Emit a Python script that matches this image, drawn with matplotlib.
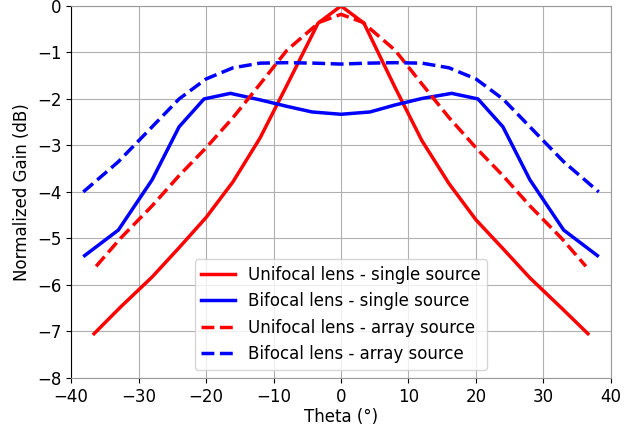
import matplotlib
matplotlib.use("Agg")
import matplotlib.pyplot as plt

# Unifocal lens - single source
theta_uni_single = [-36.6, -32.7, -28, -24, -20, -16, -12, -8, -3.4, 0,
                    3.4, 8, 12, 16, 20, 24, 28, 32.7, 36.6]
gain_uni_single = [-7.05, -6.48, -5.83, -5.2, -4.55, -3.78, -2.84, -1.7, -0.37, 0.0,
                   -0.37, -1.75, -2.9, -3.82, -4.6, -5.22, -5.85, -6.5, -7.05]

# Bifocal lens - single source
theta_bi_single = [-38, -33, -28, -24, -20.3, -16.4, -12, -8, -4.3, 0,
                   4.3, 8, 12, 16.4, 20.3, 24, 28, 33, 38]
gain_bi_single = [-5.37, -4.82, -3.74, -2.6, -2.0, -1.88, -2.02, -2.16, -2.28, -2.33,
                  -2.28, -2.13, -1.99, -1.88, -2.0, -2.6, -3.74, -4.82, -5.37]

# Unifocal lens - array source
theta_uni_array = [-36.3, -32.7, -28, -24, -20, -16, -12, -8, -3.2, 0,
                   3.2, 8, 12, 16, 20, 24, 28, 32.7, 36.3]
gain_uni_array = [-5.6, -5.0, -4.3, -3.65, -3.05, -2.4, -1.68, -0.95, -0.35, -0.18,
                  -0.35, -0.95, -1.68, -2.4, -3.05, -3.65, -4.3, -5.0, -5.6]

# Bifocal lens - array source
theta_bi_array = [-38.2, -33, -28, -24, -20, -16, -12, -8, -4, 0,
                  4, 8, 12, 16, 20, 24, 28, 33, 38.2]
gain_bi_array = [-4.0, -3.35, -2.6, -2.0, -1.57, -1.33, -1.23, -1.22, -1.23, -1.25,
                 -1.23, -1.22, -1.23, -1.33, -1.57, -2.0, -2.6, -3.35, -4.0]

labels = ["Unifocal lens - single source", "Bifocal lens - single source",
          "Unifocal lens - array source", "Bifocal lens - array source"]

plt.rcParams["font.size"] = 12

fig = plt.figure(figsize=(6.41, 4.26), dpi=100)
ax = fig.add_axes([0.111, 0.113, 0.842, 0.873])

lw = 2.5
ax.plot(theta_uni_single, gain_uni_single, color="red", lw=lw, label=labels[0])
ax.plot(theta_bi_single, gain_bi_single, color="blue", lw=lw, label=labels[1])
ax.plot(theta_uni_array, gain_uni_array, color="red", lw=lw, ls="--", label=labels[2])
ax.plot(theta_bi_array, gain_bi_array, color="blue", lw=lw, ls="--", label=labels[3])

ax.set_xlim(-40, 40)
ax.set_ylim(-8, 0)
ax.set_xticks(range(-40, 41, 10))
ax.set_yticks(range(-8, 1, 1))
ax.grid(True, color="#b0b0b0", linewidth=0.8)
ax.set_xlabel("Theta (°)", labelpad=2)
ax.set_ylabel("Normalized Gain (dB)")
for s in ["top", "right", "bottom"]:
    ax.spines[s].set_color("#999999")
ax.legend(loc="lower center", fontsize=12)

fig.savefig("out.png", dpi=100)
